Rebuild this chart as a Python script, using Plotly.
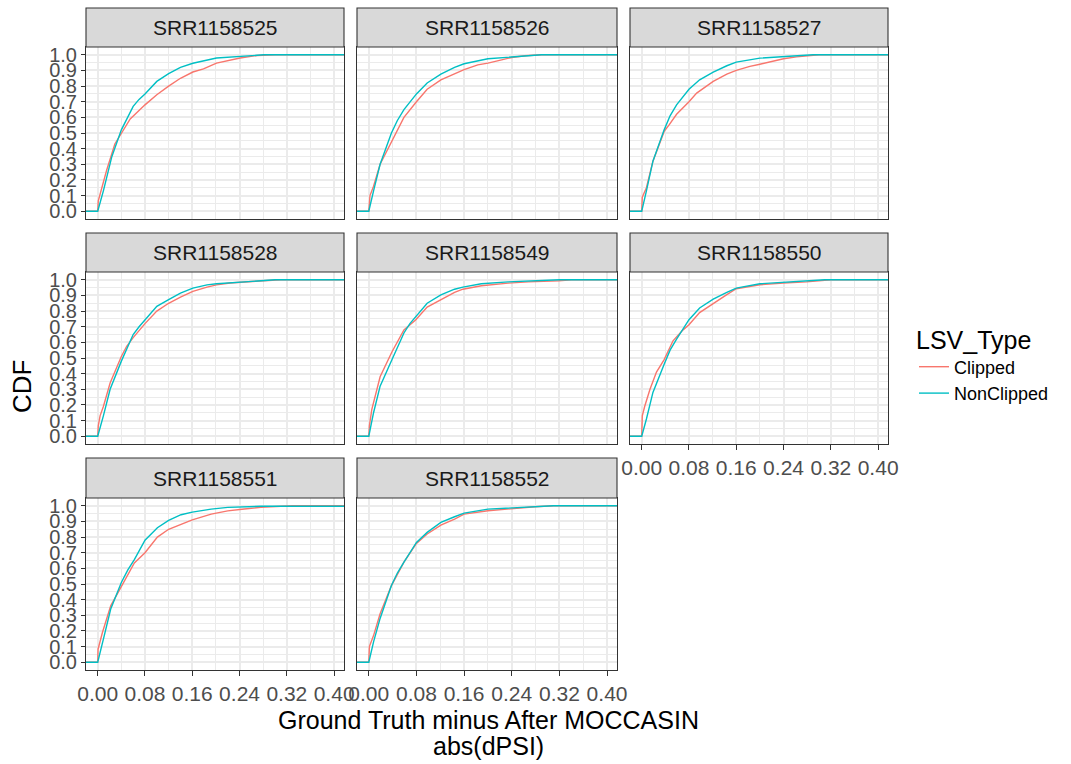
import plotly.graph_objects as go

samples = ["SRR1158525", "SRR1158526", "SRR1158527", "SRR1158528",
           "SRR1158549", "SRR1158550", "SRR1158551", "SRR1158552"]
series_names = ["Clipped", "NonClipped"]
series_colors = ["#F8766D", "#00BFC4"]
x_ticks = [0.00, 0.08, 0.16, 0.24, 0.32, 0.40]
y_ticks = [0.0, 0.1, 0.2, 0.3, 0.4, 0.5, 0.6, 0.7, 0.8, 0.9, 1.0]

# ---- ECDF points (x = abs(dPSI), y = CDF) ----
c25_x = [0, 0.001, 0.007, 0.015, 0.029, 0.040, 0.055, 0.080, 0.100, 0.120, 0.140, 0.161, 0.179, 0.201, 0.224, 0.241, 0.270, 0.30]
c25_y = [0, 0.066, 0.15, 0.26, 0.43, 0.50, 0.59, 0.68, 0.745, 0.80, 0.85, 0.89, 0.91, 0.947, 0.968, 0.98, 0.996, 1.0]
n25_x = [0, 0.0096, 0.024, 0.040, 0.050, 0.060, 0.070, 0.080, 0.100, 0.120, 0.140, 0.161, 0.201, 0.241, 0.281]
n25_y = [0, 0.13, 0.35, 0.52, 0.60, 0.67, 0.715, 0.75, 0.83, 0.88, 0.92, 0.946, 0.98, 0.99, 1.0]

c26_x = [0, 0.002, 0.008, 0.019, 0.039, 0.059, 0.080, 0.098, 0.121, 0.144, 0.160, 0.183, 0.200, 0.223, 0.240, 0.262, 0.29]
c26_y = [0, 0.10, 0.16, 0.30, 0.45, 0.60, 0.70, 0.78, 0.84, 0.88, 0.905, 0.936, 0.947, 0.968, 0.983, 0.994, 1.0]
n26_x = [0, 0.008, 0.019, 0.038, 0.048, 0.059, 0.070, 0.080, 0.098, 0.121, 0.144, 0.160, 0.200, 0.240, 0.262, 0.29]
n26_y = [0, 0.13, 0.30, 0.50, 0.58, 0.65, 0.705, 0.75, 0.82, 0.877, 0.92, 0.943, 0.975, 0.987, 0.996, 1.0]

c27_x = [0, 0.001, 0.008, 0.019, 0.038, 0.047, 0.059, 0.080, 0.093, 0.121, 0.144, 0.160, 0.183, 0.200, 0.223, 0.240, 0.262, 0.279, 0.30]
c27_y = [0, 0.09, 0.15, 0.32, 0.51, 0.555, 0.62, 0.70, 0.755, 0.83, 0.877, 0.90, 0.926, 0.94, 0.962, 0.975, 0.987, 0.994, 1.0]
n27_x = [0, 0.008, 0.019, 0.038, 0.048, 0.059, 0.070, 0.080, 0.098, 0.121, 0.144, 0.160, 0.200, 0.240, 0.262, 0.29]
n27_y = [0, 0.13, 0.32, 0.52, 0.61, 0.68, 0.735, 0.78, 0.84, 0.89, 0.93, 0.953, 0.979, 0.99, 0.996, 1.0]

c28_x = [0, 0.001, 0.004, 0.0096, 0.021, 0.040, 0.049, 0.060, 0.080, 0.100, 0.120, 0.140, 0.161, 0.185, 0.201, 0.224, 0.241, 0.281, 0.31]
c28_y = [0, 0.066, 0.13, 0.19, 0.34, 0.51, 0.575, 0.63, 0.72, 0.80, 0.85, 0.89, 0.926, 0.953, 0.968, 0.98, 0.985, 0.994, 1.0]
n28_x = [0, 0.0096, 0.021, 0.040, 0.050, 0.060, 0.070, 0.080, 0.100, 0.120, 0.140, 0.161, 0.185, 0.201, 0.241, 0.281, 0.30]
n28_y = [0, 0.13, 0.30, 0.48, 0.57, 0.65, 0.70, 0.745, 0.83, 0.873, 0.915, 0.947, 0.968, 0.975, 0.987, 0.996, 1.0]

c49_x = [0, 0.001, 0.005, 0.019, 0.039, 0.059, 0.079, 0.098, 0.121, 0.144, 0.158, 0.189, 0.234, 0.268, 0.319, 0.34]
c49_y = [0, 0.066, 0.17, 0.38, 0.54, 0.68, 0.745, 0.826, 0.873, 0.92, 0.94, 0.962, 0.979, 0.987, 0.994, 1.0]
n49_x = [0, 0.008, 0.019, 0.039, 0.049, 0.059, 0.069, 0.079, 0.098, 0.121, 0.144, 0.158, 0.189, 0.234, 0.290, 0.32]
n49_y = [0, 0.15, 0.32, 0.49, 0.58, 0.66, 0.72, 0.766, 0.85, 0.904, 0.94, 0.953, 0.975, 0.987, 0.996, 1.0]

c50_x = [0, 0.001, 0.005, 0.014, 0.025, 0.038, 0.053, 0.070, 0.080, 0.098, 0.121, 0.144, 0.160, 0.200, 0.240, 0.279, 0.32]
c50_y = [0, 0.13, 0.19, 0.30, 0.41, 0.49, 0.61, 0.68, 0.713, 0.79, 0.85, 0.905, 0.943, 0.968, 0.98, 0.987, 1.0]
n50_x = [0, 0.008, 0.019, 0.038, 0.048, 0.059, 0.070, 0.080, 0.098, 0.121, 0.144, 0.160, 0.200, 0.240, 0.279, 0.31]
n50_y = [0, 0.11, 0.28, 0.46, 0.55, 0.62, 0.69, 0.745, 0.82, 0.877, 0.92, 0.947, 0.975, 0.985, 0.994, 1.0]

c51_x = [0, 0.0006, 0.008, 0.022, 0.040, 0.062, 0.080, 0.101, 0.120, 0.141, 0.160, 0.192, 0.220, 0.248, 0.276, 0.310, 0.33]
c51_y = [0, 0.083, 0.19, 0.36, 0.486, 0.635, 0.70, 0.80, 0.85, 0.88, 0.91, 0.947, 0.968, 0.98, 0.99, 0.997, 1.0]
n51_x = [0, 0.011, 0.022, 0.040, 0.051, 0.062, 0.071, 0.080, 0.101, 0.120, 0.141, 0.160, 0.192, 0.220, 0.276, 0.31]
n51_y = [0, 0.168, 0.34, 0.51, 0.59, 0.656, 0.72, 0.78, 0.86, 0.907, 0.943, 0.96, 0.979, 0.99, 0.997, 1.0]

c52_x = [0, 0.001, 0.008, 0.019, 0.038, 0.059, 0.080, 0.098, 0.121, 0.144, 0.160, 0.200, 0.240, 0.279, 0.31]
c52_y = [0, 0.10, 0.17, 0.31, 0.49, 0.64, 0.76, 0.82, 0.877, 0.915, 0.947, 0.968, 0.983, 0.994, 1.0]
n52_x = [0, 0.008, 0.019, 0.038, 0.048, 0.059, 0.070, 0.080, 0.098, 0.121, 0.144, 0.160, 0.200, 0.240, 0.279, 0.31]
n52_y = [0, 0.13, 0.28, 0.49, 0.57, 0.64, 0.71, 0.766, 0.83, 0.894, 0.93, 0.953, 0.979, 0.987, 0.996, 1.0]

clipped = [(c25_x, c25_y), (c26_x, c26_y), (c27_x, c27_y), (c28_x, c28_y),
           (c49_x, c49_y), (c50_x, c50_y), (c51_x, c51_y), (c52_x, c52_y)]
nonclipped = [(n25_x, n25_y), (n26_x, n26_y), (n27_x, n27_y), (n28_x, n28_y),
              (n49_x, n49_y), (n50_x, n50_y), (n51_x, n51_y), (n52_x, n52_y)]

# ---- layout geometry (pixels) ----
W, H = 1071, 764
cols = [(86, 344), (357, 617), (630, 888)]
rows = [(8, 47, 219), (233, 272, 444), (458, 498, 670)]
FONT = "Liberation Sans, Arial, Helvetica, sans-serif"
GRID = "#ebebeb"
FRAME = "#333333"

fig = go.Figure()
layout = dict(template="none", width=W, height=H, margin=dict(l=0, r=0, t=0, b=0),
              plot_bgcolor="white", paper_bgcolor="white",
              font=dict(family=FONT, color="#4d4d4d"))
shapes, annotations = [], []

for i, name in enumerate(samples):
    r, c = divmod(i, 3)
    x0, x1 = cols[c]
    st, pt, pb = rows[r]
    sfx = "" if i == 0 else str(i + 1)
    bottom = i >= 5
    left = c == 0
    for (sx, sy), sname, col in zip([clipped[i], nonclipped[i]], series_names, series_colors):
        fig.add_trace(go.Scatter(
            x=[-1] + list(sx) + [1], y=[0] + list(sy) + [1],
            mode="lines", line=dict(color=col, width=1.4),
            name=sname, legendgroup=sname, showlegend=(i == 0),
            xaxis="x" + sfx, yaxis="y" + sfx, hoverinfo="skip"))
    layout["xaxis" + sfx] = dict(
        domain=[x0 / W, x1 / W], anchor="y" + sfx, range=[-0.0198, 0.4167],
        automargin=False,
        tickvals=x_ticks, tickformat=".2f", showgrid=True, gridcolor=GRID, gridwidth=1.6,
        minor=dict(dtick=0.04, tick0=0, showgrid=True, gridcolor=GRID, gridwidth=0.8),
        showline=True, mirror=True, linecolor=FRAME, linewidth=1.1, zeroline=False,
        ticks="outside" if bottom else "", ticklen=5, tickcolor=FRAME,
        showticklabels=bottom, tickfont=dict(size=21, color="#4d4d4d"))
    layout["yaxis" + sfx] = dict(
        domain=[1 - pb / H, 1 - pt / H], anchor="x" + sfx, range=[-0.05, 1.05],
        automargin=False,
        tickvals=y_ticks, tickformat=".1f", showgrid=True, gridcolor=GRID, gridwidth=1.6,
        minor=dict(dtick=0.05, tick0=0, showgrid=True, gridcolor=GRID, gridwidth=0.8),
        showline=True, mirror=True, linecolor=FRAME, linewidth=1.1, zeroline=False,
        ticks="outside" if left else "", ticklen=4, tickcolor=FRAME,
        showticklabels=left, tickfont=dict(size=20, color="#4d4d4d"))
    shapes.append(dict(type="rect", xref="paper", yref="paper",
                       x0=x0 / W, x1=x1 / W, y0=1 - pt / H, y1=1 - st / H,
                       fillcolor="#d9d9d9", line=dict(color=FRAME, width=1.1)))
    annotations.append(dict(text=name, xref="paper", yref="paper",
                            x=(x0 + x1) / 2 / W, y=1 - (st + pt) / 2 / H,
                            showarrow=False, xanchor="center", yanchor="middle",
                            font=dict(size=21, color="#1a1a1a", family=FONT)))

annotations.append(dict(text="CDF", xref="paper", yref="paper", x=22 / W, y=1 - 387 / H,
                        textangle=-90, showarrow=False, xanchor="center", yanchor="middle",
                        font=dict(size=26, color="black", family=FONT)))
annotations.append(dict(text="Ground Truth minus After MOCCASIN",
                        xref="paper", yref="paper", x=488 / W, y=1 - 720 / H,
                        showarrow=False, xanchor="center", yanchor="middle",
                        font=dict(size=25, color="black", family=FONT)))
annotations.append(dict(text="abs(dPSI)",
                        xref="paper", yref="paper", x=488 / W, y=1 - 746 / H,
                        showarrow=False, xanchor="center", yanchor="middle",
                        font=dict(size=25, color="black", family=FONT)))

layout["shapes"] = shapes
layout["annotations"] = annotations
layout["legend"] = dict(x=914 / W, y=1 - 316 / H, xanchor="left", yanchor="top",
                        title=dict(text="LSV_Type", font=dict(size=25, color="black")),
                        font=dict(size=18, color="black"), itemwidth=30,
                        tracegroupgap=0, bgcolor="rgba(0,0,0,0)")
fig.update_layout(**layout)
fig.write_html("out.html")
